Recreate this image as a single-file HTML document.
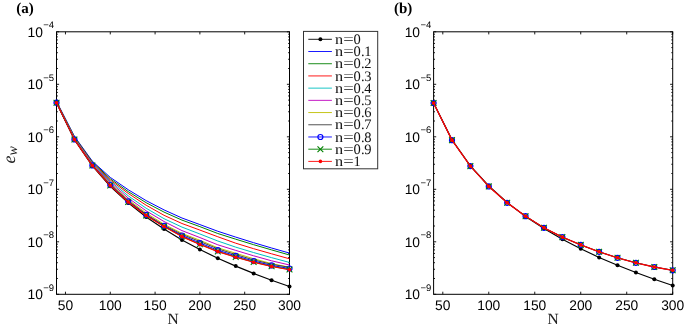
<!DOCTYPE html>
<html><head><meta charset="utf-8"><title>figure</title>
<style>
html,body{margin:0;padding:0;background:#fff}
svg{display:block}
text{text-rendering:geometricPrecision}
.s{font-family:"Liberation Sans",sans-serif;font-size:13.8px;fill:#000}
.e{font-family:"Liberation Sans",sans-serif;font-size:9.5px;fill:#000}
.n{font-family:"Liberation Serif",serif;font-size:15.5px;fill:#222}
.l{font-family:"Liberation Serif",serif;font-size:14.5px;fill:#111}
.p{font-family:"Liberation Serif",serif;font-size:15px;font-weight:bold;fill:#000}
.ew{font-family:"Liberation Serif",serif;font-style:italic;font-size:18px;fill:#222}
.w{font-size:14px}
</style></head><body>
<svg width="685" height="327" viewBox="0 0 685 327">
<rect width="685" height="327" fill="#fff"/>
<path d="M65.46 294.3v-2.6M65.46 31.8v2.6M110.27 294.3v-2.6M110.27 31.8v2.6M155.08 294.3v-2.6M155.08 31.8v2.6M199.88 294.3v-2.6M199.88 31.8v2.6M244.69 294.3v-2.6M244.69 31.8v2.6M289.50 294.3v-2.6M289.50 31.8v2.6M56.5 294.30h2.6M289.5 294.30h-2.6M56.5 278.50h1.4M289.5 278.50h-1.4M56.5 269.25h1.4M289.5 269.25h-1.4M56.5 262.69h1.4M289.5 262.69h-1.4M56.5 257.60h1.4M289.5 257.60h-1.4M56.5 253.45h1.4M289.5 253.45h-1.4M56.5 249.93h1.4M289.5 249.93h-1.4M56.5 246.89h1.4M289.5 246.89h-1.4M56.5 244.20h1.4M289.5 244.20h-1.4M56.5 241.80h2.6M289.5 241.80h-2.6M56.5 226.00h1.4M289.5 226.00h-1.4M56.5 216.75h1.4M289.5 216.75h-1.4M56.5 210.19h1.4M289.5 210.19h-1.4M56.5 205.10h1.4M289.5 205.10h-1.4M56.5 200.95h1.4M289.5 200.95h-1.4M56.5 197.43h1.4M289.5 197.43h-1.4M56.5 194.39h1.4M289.5 194.39h-1.4M56.5 191.70h1.4M289.5 191.70h-1.4M56.5 189.30h2.6M289.5 189.30h-2.6M56.5 173.50h1.4M289.5 173.50h-1.4M56.5 164.25h1.4M289.5 164.25h-1.4M56.5 157.69h1.4M289.5 157.69h-1.4M56.5 152.60h1.4M289.5 152.60h-1.4M56.5 148.45h1.4M289.5 148.45h-1.4M56.5 144.93h1.4M289.5 144.93h-1.4M56.5 141.89h1.4M289.5 141.89h-1.4M56.5 139.20h1.4M289.5 139.20h-1.4M56.5 136.80h2.6M289.5 136.80h-2.6M56.5 121.00h1.4M289.5 121.00h-1.4M56.5 111.75h1.4M289.5 111.75h-1.4M56.5 105.19h1.4M289.5 105.19h-1.4M56.5 100.10h1.4M289.5 100.10h-1.4M56.5 95.95h1.4M289.5 95.95h-1.4M56.5 92.43h1.4M289.5 92.43h-1.4M56.5 89.39h1.4M289.5 89.39h-1.4M56.5 86.70h1.4M289.5 86.70h-1.4M56.5 84.30h2.6M289.5 84.30h-2.6M56.5 68.50h1.4M289.5 68.50h-1.4M56.5 59.25h1.4M289.5 59.25h-1.4M56.5 52.69h1.4M289.5 52.69h-1.4M56.5 47.60h1.4M289.5 47.60h-1.4M56.5 43.45h1.4M289.5 43.45h-1.4M56.5 39.93h1.4M289.5 39.93h-1.4M56.5 36.89h1.4M289.5 36.89h-1.4M56.5 34.20h1.4M289.5 34.20h-1.4M56.5 31.80h2.6M289.5 31.80h-2.6" stroke="#000" stroke-width="0.9" fill="none"/>
<rect x="56.5" y="31.8" width="233.0" height="262.5" fill="none" stroke="#000" stroke-width="1"/>
<text x="65.46" y="309.8" text-anchor="middle" class="s">50</text>
<text x="110.27" y="309.8" text-anchor="middle" class="s">100</text>
<text x="155.08" y="309.8" text-anchor="middle" class="s">150</text>
<text x="199.88" y="309.8" text-anchor="middle" class="s">200</text>
<text x="244.69" y="309.8" text-anchor="middle" class="s">250</text>
<text x="289.50" y="309.8" text-anchor="middle" class="s">300</text>
<text x="42.90" y="299.40" text-anchor="end" class="s">10</text>
<text x="43.30" y="290.80" class="e">−9</text>
<text x="42.90" y="246.90" text-anchor="end" class="s">10</text>
<text x="43.30" y="238.30" class="e">−8</text>
<text x="42.90" y="194.40" text-anchor="end" class="s">10</text>
<text x="43.30" y="185.80" class="e">−7</text>
<text x="42.90" y="141.90" text-anchor="end" class="s">10</text>
<text x="43.30" y="133.30" class="e">−6</text>
<text x="42.90" y="89.40" text-anchor="end" class="s">10</text>
<text x="43.30" y="80.80" class="e">−5</text>
<text x="42.90" y="36.90" text-anchor="end" class="s">10</text>
<text x="43.30" y="28.30" class="e">−4</text>
<text x="173.00" y="324.2" text-anchor="middle" class="n">N</text>
<polyline points="56.50,102.70 74.42,139.70 92.35,165.90 110.27,186.30 128.19,202.90 146.12,217.00 164.04,229.10 181.96,239.90 199.88,249.60 217.81,258.20 235.73,266.10 253.65,273.40 271.58,280.20 289.50,286.50" fill="none" stroke="#000" stroke-width="1.15" stroke-linejoin="round"/>
<circle cx="56.50" cy="102.70" r="2.0" fill="#000"/>
<circle cx="74.42" cy="139.70" r="2.0" fill="#000"/>
<circle cx="92.35" cy="165.90" r="2.0" fill="#000"/>
<circle cx="110.27" cy="186.30" r="2.0" fill="#000"/>
<circle cx="128.19" cy="202.90" r="2.0" fill="#000"/>
<circle cx="146.12" cy="217.00" r="2.0" fill="#000"/>
<circle cx="164.04" cy="229.10" r="2.0" fill="#000"/>
<circle cx="181.96" cy="239.90" r="2.0" fill="#000"/>
<circle cx="199.88" cy="249.60" r="2.0" fill="#000"/>
<circle cx="217.81" cy="258.20" r="2.0" fill="#000"/>
<circle cx="235.73" cy="266.10" r="2.0" fill="#000"/>
<circle cx="253.65" cy="273.40" r="2.0" fill="#000"/>
<circle cx="271.58" cy="280.20" r="2.0" fill="#000"/>
<circle cx="289.50" cy="286.50" r="2.0" fill="#000"/>
<polyline points="56.50,101.38 74.42,136.30 92.35,161.20 110.27,177.40 128.19,189.70 146.12,200.60 164.04,209.90 181.96,218.00 199.88,224.58 217.81,231.25 235.73,237.10 253.65,242.70 271.58,248.00 289.50,253.10" fill="none" stroke="#0000ff" stroke-width="1.0" stroke-linejoin="round"/>
<polyline points="56.50,101.62 74.42,136.90 92.35,162.00 110.27,178.80 128.19,191.60 146.12,202.70 164.04,212.10 181.96,220.10 199.88,226.64 217.81,233.50 235.73,239.20 253.65,244.70 271.58,249.90 289.50,255.00" fill="none" stroke="#008000" stroke-width="1.0" stroke-linejoin="round"/>
<polyline points="56.50,101.86 74.42,137.50 92.35,162.80 110.27,180.00 128.19,193.40 146.12,205.20 164.04,215.30 181.96,223.50 199.88,230.08 217.81,236.75 235.73,243.20 253.65,248.70 271.58,253.80 289.50,258.80" fill="none" stroke="#ff0000" stroke-width="1.0" stroke-linejoin="round"/>
<polyline points="56.50,102.07 74.42,138.03 92.35,163.50 110.27,181.20 128.19,195.80 146.12,208.20 164.04,218.70 181.96,227.10 199.88,233.98 217.81,241.00 235.73,247.15 253.65,252.55 271.58,257.65 289.50,262.45" fill="none" stroke="#00bfbf" stroke-width="1.0" stroke-linejoin="round"/>
<polyline points="56.50,102.28 74.42,138.55 92.35,164.20 110.27,182.40 128.19,198.00 146.12,210.80 164.04,221.50 181.96,230.60 199.88,237.56 217.81,244.80 235.73,250.40 253.65,255.80 271.58,260.80 289.50,265.00" fill="none" stroke="#bf00bf" stroke-width="1.0" stroke-linejoin="round"/>
<polyline points="56.50,102.46 74.42,139.00 92.35,164.80 110.27,183.60 128.19,199.70 146.12,213.00 164.04,224.30 181.96,233.40 199.88,240.28 217.81,247.80 235.73,253.25 253.65,258.75 271.58,263.65 289.50,267.25" fill="none" stroke="#bfbf00" stroke-width="1.0" stroke-linejoin="round"/>
<polyline points="56.50,102.58 74.42,139.30 92.35,165.20 110.27,184.40 128.19,200.70 146.12,214.30 164.04,225.40 181.96,234.40 199.88,241.50 217.81,248.80 235.73,254.60 253.65,259.90 271.58,264.30 289.50,267.30" fill="none" stroke="#404040" stroke-width="1.0" stroke-linejoin="round"/>
<polyline points="56.50,102.64 74.42,139.45 92.35,165.40 110.27,185.00 128.19,201.35 146.12,214.90 164.04,225.95 181.96,235.50 199.88,243.04 217.81,250.20 235.73,255.90 253.65,261.05 271.58,265.40 289.50,268.50" fill="none" stroke="#0000ff" stroke-width="1.0" stroke-linejoin="round"/>
<circle cx="56.50" cy="102.64" r="2.5" fill="none" stroke="#0000ff" stroke-width="1.2"/>
<circle cx="74.42" cy="139.45" r="2.5" fill="none" stroke="#0000ff" stroke-width="1.2"/>
<circle cx="92.35" cy="165.40" r="2.5" fill="none" stroke="#0000ff" stroke-width="1.2"/>
<circle cx="110.27" cy="185.00" r="2.5" fill="none" stroke="#0000ff" stroke-width="1.2"/>
<circle cx="128.19" cy="201.35" r="2.5" fill="none" stroke="#0000ff" stroke-width="1.2"/>
<circle cx="146.12" cy="214.90" r="2.5" fill="none" stroke="#0000ff" stroke-width="1.2"/>
<circle cx="164.04" cy="225.95" r="2.5" fill="none" stroke="#0000ff" stroke-width="1.2"/>
<circle cx="181.96" cy="235.50" r="2.5" fill="none" stroke="#0000ff" stroke-width="1.2"/>
<circle cx="199.88" cy="243.04" r="2.5" fill="none" stroke="#0000ff" stroke-width="1.2"/>
<circle cx="217.81" cy="250.20" r="2.5" fill="none" stroke="#0000ff" stroke-width="1.2"/>
<circle cx="235.73" cy="255.90" r="2.5" fill="none" stroke="#0000ff" stroke-width="1.2"/>
<circle cx="253.65" cy="261.05" r="2.5" fill="none" stroke="#0000ff" stroke-width="1.2"/>
<circle cx="271.58" cy="265.40" r="2.5" fill="none" stroke="#0000ff" stroke-width="1.2"/>
<circle cx="289.50" cy="268.50" r="2.5" fill="none" stroke="#0000ff" stroke-width="1.2"/>
<polyline points="56.50,102.69 74.42,139.58 92.35,165.57 110.27,185.50 128.19,201.90 146.12,215.40 164.04,226.41 181.96,236.42 199.88,244.33 217.81,251.38 235.73,256.99 253.65,262.02 271.58,266.32 289.50,269.51" fill="none" stroke="#008000" stroke-width="1.0" stroke-linejoin="round"/>
<path d="M53.60 99.79L59.40 105.59M53.60 105.59L59.40 99.79" stroke="#008000" stroke-width="1.1" fill="none"/>
<path d="M71.52 136.68L77.32 142.48M71.52 142.48L77.32 136.68" stroke="#008000" stroke-width="1.1" fill="none"/>
<path d="M89.45 162.67L95.25 168.47M89.45 168.47L95.25 162.67" stroke="#008000" stroke-width="1.1" fill="none"/>
<path d="M107.37 182.60L113.17 188.40M107.37 188.40L113.17 182.60" stroke="#008000" stroke-width="1.1" fill="none"/>
<path d="M125.29 199.00L131.09 204.80M125.29 204.80L131.09 199.00" stroke="#008000" stroke-width="1.1" fill="none"/>
<path d="M143.22 212.50L149.02 218.30M143.22 218.30L149.02 212.50" stroke="#008000" stroke-width="1.1" fill="none"/>
<path d="M161.14 223.51L166.94 229.31M161.14 229.31L166.94 223.51" stroke="#008000" stroke-width="1.1" fill="none"/>
<path d="M179.06 233.52L184.86 239.32M179.06 239.32L184.86 233.52" stroke="#008000" stroke-width="1.1" fill="none"/>
<path d="M196.98 241.43L202.78 247.23M196.98 247.23L202.78 241.43" stroke="#008000" stroke-width="1.1" fill="none"/>
<path d="M214.91 248.48L220.71 254.28M214.91 254.28L220.71 248.48" stroke="#008000" stroke-width="1.1" fill="none"/>
<path d="M232.83 254.09L238.63 259.89M232.83 259.89L238.63 254.09" stroke="#008000" stroke-width="1.1" fill="none"/>
<path d="M250.75 259.12L256.55 264.92M250.75 264.92L256.55 259.12" stroke="#008000" stroke-width="1.1" fill="none"/>
<path d="M268.68 263.42L274.48 269.22M268.68 269.22L274.48 263.42" stroke="#008000" stroke-width="1.1" fill="none"/>
<path d="M286.60 266.61L292.40 272.41M286.60 272.41L292.40 266.61" stroke="#008000" stroke-width="1.1" fill="none"/>
<polyline points="56.50,102.70 74.42,139.60 92.35,165.60 110.27,185.60 128.19,202.00 146.12,215.50 164.04,226.50 181.96,236.60 199.88,244.58 217.81,251.60 235.73,257.20 253.65,262.20 271.58,266.50 289.50,269.70" fill="none" stroke="#ff0000" stroke-width="1.15" stroke-linejoin="round"/>
<circle cx="56.50" cy="102.70" r="1.8" fill="#ff0000"/>
<circle cx="74.42" cy="139.60" r="1.8" fill="#ff0000"/>
<circle cx="92.35" cy="165.60" r="1.8" fill="#ff0000"/>
<circle cx="110.27" cy="185.60" r="1.8" fill="#ff0000"/>
<circle cx="128.19" cy="202.00" r="1.8" fill="#ff0000"/>
<circle cx="146.12" cy="215.50" r="1.8" fill="#ff0000"/>
<circle cx="164.04" cy="226.50" r="1.8" fill="#ff0000"/>
<circle cx="181.96" cy="236.60" r="1.8" fill="#ff0000"/>
<circle cx="199.88" cy="244.58" r="1.8" fill="#ff0000"/>
<circle cx="217.81" cy="251.60" r="1.8" fill="#ff0000"/>
<circle cx="235.73" cy="257.20" r="1.8" fill="#ff0000"/>
<circle cx="253.65" cy="262.20" r="1.8" fill="#ff0000"/>
<circle cx="271.58" cy="266.50" r="1.8" fill="#ff0000"/>
<circle cx="289.50" cy="269.70" r="1.8" fill="#ff0000"/>
<path d="M442.80 294.3v-2.6M442.80 31.8v2.6M488.78 294.3v-2.6M488.78 31.8v2.6M534.76 294.3v-2.6M534.76 31.8v2.6M580.74 294.3v-2.6M580.74 31.8v2.6M626.72 294.3v-2.6M626.72 31.8v2.6M672.70 294.3v-2.6M672.70 31.8v2.6M433.6 294.30h2.6M672.7 294.30h-2.6M433.6 278.50h1.4M672.7 278.50h-1.4M433.6 269.25h1.4M672.7 269.25h-1.4M433.6 262.69h1.4M672.7 262.69h-1.4M433.6 257.60h1.4M672.7 257.60h-1.4M433.6 253.45h1.4M672.7 253.45h-1.4M433.6 249.93h1.4M672.7 249.93h-1.4M433.6 246.89h1.4M672.7 246.89h-1.4M433.6 244.20h1.4M672.7 244.20h-1.4M433.6 241.80h2.6M672.7 241.80h-2.6M433.6 226.00h1.4M672.7 226.00h-1.4M433.6 216.75h1.4M672.7 216.75h-1.4M433.6 210.19h1.4M672.7 210.19h-1.4M433.6 205.10h1.4M672.7 205.10h-1.4M433.6 200.95h1.4M672.7 200.95h-1.4M433.6 197.43h1.4M672.7 197.43h-1.4M433.6 194.39h1.4M672.7 194.39h-1.4M433.6 191.70h1.4M672.7 191.70h-1.4M433.6 189.30h2.6M672.7 189.30h-2.6M433.6 173.50h1.4M672.7 173.50h-1.4M433.6 164.25h1.4M672.7 164.25h-1.4M433.6 157.69h1.4M672.7 157.69h-1.4M433.6 152.60h1.4M672.7 152.60h-1.4M433.6 148.45h1.4M672.7 148.45h-1.4M433.6 144.93h1.4M672.7 144.93h-1.4M433.6 141.89h1.4M672.7 141.89h-1.4M433.6 139.20h1.4M672.7 139.20h-1.4M433.6 136.80h2.6M672.7 136.80h-2.6M433.6 121.00h1.4M672.7 121.00h-1.4M433.6 111.75h1.4M672.7 111.75h-1.4M433.6 105.19h1.4M672.7 105.19h-1.4M433.6 100.10h1.4M672.7 100.10h-1.4M433.6 95.95h1.4M672.7 95.95h-1.4M433.6 92.43h1.4M672.7 92.43h-1.4M433.6 89.39h1.4M672.7 89.39h-1.4M433.6 86.70h1.4M672.7 86.70h-1.4M433.6 84.30h2.6M672.7 84.30h-2.6M433.6 68.50h1.4M672.7 68.50h-1.4M433.6 59.25h1.4M672.7 59.25h-1.4M433.6 52.69h1.4M672.7 52.69h-1.4M433.6 47.60h1.4M672.7 47.60h-1.4M433.6 43.45h1.4M672.7 43.45h-1.4M433.6 39.93h1.4M672.7 39.93h-1.4M433.6 36.89h1.4M672.7 36.89h-1.4M433.6 34.20h1.4M672.7 34.20h-1.4M433.6 31.80h2.6M672.7 31.80h-2.6" stroke="#000" stroke-width="0.9" fill="none"/>
<rect x="433.6" y="31.8" width="239.10000000000002" height="262.5" fill="none" stroke="#000" stroke-width="1"/>
<text x="442.80" y="309.8" text-anchor="middle" class="s">50</text>
<text x="488.78" y="309.8" text-anchor="middle" class="s">100</text>
<text x="534.76" y="309.8" text-anchor="middle" class="s">150</text>
<text x="580.74" y="309.8" text-anchor="middle" class="s">200</text>
<text x="626.72" y="309.8" text-anchor="middle" class="s">250</text>
<text x="672.70" y="309.8" text-anchor="middle" class="s">300</text>
<text x="420.00" y="299.40" text-anchor="end" class="s">10</text>
<text x="420.40" y="290.80" class="e">−9</text>
<text x="420.00" y="246.90" text-anchor="end" class="s">10</text>
<text x="420.40" y="238.30" class="e">−8</text>
<text x="420.00" y="194.40" text-anchor="end" class="s">10</text>
<text x="420.40" y="185.80" class="e">−7</text>
<text x="420.00" y="141.90" text-anchor="end" class="s">10</text>
<text x="420.40" y="133.30" class="e">−6</text>
<text x="420.00" y="89.40" text-anchor="end" class="s">10</text>
<text x="420.40" y="80.80" class="e">−5</text>
<text x="420.00" y="36.90" text-anchor="end" class="s">10</text>
<text x="420.40" y="28.30" class="e">−4</text>
<text x="553.15" y="324.2" text-anchor="middle" class="n">N</text>
<polyline points="433.60,103.00 451.99,139.73 470.38,165.79 488.78,186.00 507.17,202.51 525.56,216.48 543.95,228.57 562.35,239.24 580.74,248.79 599.13,257.42 617.52,265.30 635.92,272.55 654.31,279.26 672.70,285.51" fill="none" stroke="#000" stroke-width="1.15" stroke-linejoin="round"/>
<circle cx="433.60" cy="103.00" r="2.0" fill="#000"/>
<circle cx="451.99" cy="139.73" r="2.0" fill="#000"/>
<circle cx="470.38" cy="165.79" r="2.0" fill="#000"/>
<circle cx="488.78" cy="186.00" r="2.0" fill="#000"/>
<circle cx="507.17" cy="202.51" r="2.0" fill="#000"/>
<circle cx="525.56" cy="216.48" r="2.0" fill="#000"/>
<circle cx="543.95" cy="228.57" r="2.0" fill="#000"/>
<circle cx="562.35" cy="239.24" r="2.0" fill="#000"/>
<circle cx="580.74" cy="248.79" r="2.0" fill="#000"/>
<circle cx="599.13" cy="257.42" r="2.0" fill="#000"/>
<circle cx="617.52" cy="265.30" r="2.0" fill="#000"/>
<circle cx="635.92" cy="272.55" r="2.0" fill="#000"/>
<circle cx="654.31" cy="279.26" r="2.0" fill="#000"/>
<circle cx="672.70" cy="285.51" r="2.0" fill="#000"/>
<polyline points="433.60,103.00 451.99,140.15 470.38,166.10 488.78,186.40 507.17,202.80 525.56,216.20 543.95,227.80 562.35,237.10 580.74,244.90 599.13,251.80 617.52,257.80 635.92,262.80 654.31,267.00 672.70,270.30" fill="none" stroke="#0000ff" stroke-width="1.0" stroke-linejoin="round"/>
<circle cx="433.60" cy="103.00" r="2.5" fill="none" stroke="#0000ff" stroke-width="1.2"/>
<circle cx="451.99" cy="140.15" r="2.5" fill="none" stroke="#0000ff" stroke-width="1.2"/>
<circle cx="470.38" cy="166.10" r="2.5" fill="none" stroke="#0000ff" stroke-width="1.2"/>
<circle cx="488.78" cy="186.40" r="2.5" fill="none" stroke="#0000ff" stroke-width="1.2"/>
<circle cx="507.17" cy="202.80" r="2.5" fill="none" stroke="#0000ff" stroke-width="1.2"/>
<circle cx="525.56" cy="216.20" r="2.5" fill="none" stroke="#0000ff" stroke-width="1.2"/>
<circle cx="543.95" cy="227.80" r="2.5" fill="none" stroke="#0000ff" stroke-width="1.2"/>
<circle cx="562.35" cy="237.10" r="2.5" fill="none" stroke="#0000ff" stroke-width="1.2"/>
<circle cx="580.74" cy="244.90" r="2.5" fill="none" stroke="#0000ff" stroke-width="1.2"/>
<circle cx="599.13" cy="251.80" r="2.5" fill="none" stroke="#0000ff" stroke-width="1.2"/>
<circle cx="617.52" cy="257.80" r="2.5" fill="none" stroke="#0000ff" stroke-width="1.2"/>
<circle cx="635.92" cy="262.80" r="2.5" fill="none" stroke="#0000ff" stroke-width="1.2"/>
<circle cx="654.31" cy="267.00" r="2.5" fill="none" stroke="#0000ff" stroke-width="1.2"/>
<circle cx="672.70" cy="270.30" r="2.5" fill="none" stroke="#0000ff" stroke-width="1.2"/>
<polyline points="433.60,103.00 451.99,140.15 470.38,166.10 488.78,186.40 507.17,202.80 525.56,216.20 543.95,227.80 562.35,237.10 580.74,244.90 599.13,251.80 617.52,257.80 635.92,262.80 654.31,267.00 672.70,270.30" fill="none" stroke="#008000" stroke-width="1.0" stroke-linejoin="round"/>
<path d="M430.70 100.10L436.50 105.90M430.70 105.90L436.50 100.10" stroke="#008000" stroke-width="1.1" fill="none"/>
<path d="M449.09 137.25L454.89 143.05M449.09 143.05L454.89 137.25" stroke="#008000" stroke-width="1.1" fill="none"/>
<path d="M467.48 163.20L473.28 169.00M467.48 169.00L473.28 163.20" stroke="#008000" stroke-width="1.1" fill="none"/>
<path d="M485.88 183.50L491.68 189.30M485.88 189.30L491.68 183.50" stroke="#008000" stroke-width="1.1" fill="none"/>
<path d="M504.27 199.90L510.07 205.70M504.27 205.70L510.07 199.90" stroke="#008000" stroke-width="1.1" fill="none"/>
<path d="M522.66 213.30L528.46 219.10M522.66 219.10L528.46 213.30" stroke="#008000" stroke-width="1.1" fill="none"/>
<path d="M541.05 224.90L546.85 230.70M541.05 230.70L546.85 224.90" stroke="#008000" stroke-width="1.1" fill="none"/>
<path d="M559.45 234.20L565.25 240.00M559.45 240.00L565.25 234.20" stroke="#008000" stroke-width="1.1" fill="none"/>
<path d="M577.84 242.00L583.64 247.80M577.84 247.80L583.64 242.00" stroke="#008000" stroke-width="1.1" fill="none"/>
<path d="M596.23 248.90L602.03 254.70M596.23 254.70L602.03 248.90" stroke="#008000" stroke-width="1.1" fill="none"/>
<path d="M614.62 254.90L620.42 260.70M614.62 260.70L620.42 254.90" stroke="#008000" stroke-width="1.1" fill="none"/>
<path d="M633.02 259.90L638.82 265.70M633.02 265.70L638.82 259.90" stroke="#008000" stroke-width="1.1" fill="none"/>
<path d="M651.41 264.10L657.21 269.90M651.41 269.90L657.21 264.10" stroke="#008000" stroke-width="1.1" fill="none"/>
<path d="M669.80 267.40L675.60 273.20M669.80 273.20L675.60 267.40" stroke="#008000" stroke-width="1.1" fill="none"/>
<polyline points="433.60,103.00 451.99,140.15 470.38,166.10 488.78,186.40 507.17,202.80 525.56,216.20 543.95,227.80 562.35,237.10 580.74,244.90 599.13,251.80 617.52,257.80 635.92,262.80 654.31,267.00 672.70,270.30" fill="none" stroke="#ff0000" stroke-width="1.35" stroke-linejoin="round"/>
<circle cx="433.60" cy="103.00" r="1.8" fill="#ff0000"/>
<circle cx="451.99" cy="140.15" r="1.8" fill="#ff0000"/>
<circle cx="470.38" cy="166.10" r="1.8" fill="#ff0000"/>
<circle cx="488.78" cy="186.40" r="1.8" fill="#ff0000"/>
<circle cx="507.17" cy="202.80" r="1.8" fill="#ff0000"/>
<circle cx="525.56" cy="216.20" r="1.8" fill="#ff0000"/>
<circle cx="543.95" cy="227.80" r="1.8" fill="#ff0000"/>
<circle cx="562.35" cy="237.10" r="1.8" fill="#ff0000"/>
<circle cx="580.74" cy="244.90" r="1.8" fill="#ff0000"/>
<circle cx="599.13" cy="251.80" r="1.8" fill="#ff0000"/>
<circle cx="617.52" cy="257.80" r="1.8" fill="#ff0000"/>
<circle cx="635.92" cy="262.80" r="1.8" fill="#ff0000"/>
<circle cx="654.31" cy="267.00" r="1.8" fill="#ff0000"/>
<circle cx="672.70" cy="270.30" r="1.8" fill="#ff0000"/>
<rect x="303.5" y="31.4" width="74.19999999999999" height="137.4" fill="#fff" stroke="#333" stroke-width="1"/>
<path d="M308.3 39.30H331.9" stroke="#000" stroke-width="0.9" fill="none"/>
<circle cx="320.40" cy="39.30" r="2.0" fill="#000"/>
<text y="43.90" class="l"><tspan x="335.1" textLength="8.1" lengthAdjust="spacingAndGlyphs">n</tspan><tspan x="343.3" textLength="10.5" lengthAdjust="spacingAndGlyphs">=</tspan><tspan x="353.6">0</tspan></text>
<path d="M308.3 51.51H331.9" stroke="#0000ff" stroke-width="0.9" fill="none"/>
<text y="56.11" class="l"><tspan x="335.1" textLength="8.1" lengthAdjust="spacingAndGlyphs">n</tspan><tspan x="343.3" textLength="10.5" lengthAdjust="spacingAndGlyphs">=</tspan><tspan x="353.6">0</tspan><tspan x="361.1">.</tspan><tspan x="364.2">1</tspan></text>
<path d="M308.3 63.72H331.9" stroke="#008000" stroke-width="0.9" fill="none"/>
<text y="68.32" class="l"><tspan x="335.1" textLength="8.1" lengthAdjust="spacingAndGlyphs">n</tspan><tspan x="343.3" textLength="10.5" lengthAdjust="spacingAndGlyphs">=</tspan><tspan x="353.6">0</tspan><tspan x="361.1">.</tspan><tspan x="364.2">2</tspan></text>
<path d="M308.3 75.93H331.9" stroke="#ff0000" stroke-width="0.9" fill="none"/>
<text y="80.53" class="l"><tspan x="335.1" textLength="8.1" lengthAdjust="spacingAndGlyphs">n</tspan><tspan x="343.3" textLength="10.5" lengthAdjust="spacingAndGlyphs">=</tspan><tspan x="353.6">0</tspan><tspan x="361.1">.</tspan><tspan x="364.2">3</tspan></text>
<path d="M308.3 88.14H331.9" stroke="#00bfbf" stroke-width="0.9" fill="none"/>
<text y="92.74" class="l"><tspan x="335.1" textLength="8.1" lengthAdjust="spacingAndGlyphs">n</tspan><tspan x="343.3" textLength="10.5" lengthAdjust="spacingAndGlyphs">=</tspan><tspan x="353.6">0</tspan><tspan x="361.1">.</tspan><tspan x="364.2">4</tspan></text>
<path d="M308.3 100.35H331.9" stroke="#bf00bf" stroke-width="0.9" fill="none"/>
<text y="104.95" class="l"><tspan x="335.1" textLength="8.1" lengthAdjust="spacingAndGlyphs">n</tspan><tspan x="343.3" textLength="10.5" lengthAdjust="spacingAndGlyphs">=</tspan><tspan x="353.6">0</tspan><tspan x="361.1">.</tspan><tspan x="364.2">5</tspan></text>
<path d="M308.3 112.56H331.9" stroke="#bfbf00" stroke-width="0.9" fill="none"/>
<text y="117.16" class="l"><tspan x="335.1" textLength="8.1" lengthAdjust="spacingAndGlyphs">n</tspan><tspan x="343.3" textLength="10.5" lengthAdjust="spacingAndGlyphs">=</tspan><tspan x="353.6">0</tspan><tspan x="361.1">.</tspan><tspan x="364.2">6</tspan></text>
<path d="M308.3 124.77H331.9" stroke="#404040" stroke-width="0.9" fill="none"/>
<text y="129.37" class="l"><tspan x="335.1" textLength="8.1" lengthAdjust="spacingAndGlyphs">n</tspan><tspan x="343.3" textLength="10.5" lengthAdjust="spacingAndGlyphs">=</tspan><tspan x="353.6">0</tspan><tspan x="361.1">.</tspan><tspan x="364.2">7</tspan></text>
<path d="M308.3 136.98H331.9" stroke="#0000ff" stroke-width="0.9" fill="none"/>
<circle cx="320.40" cy="136.98" r="2.5" fill="none" stroke="#0000ff" stroke-width="1.2"/>
<text y="141.58" class="l"><tspan x="335.1" textLength="8.1" lengthAdjust="spacingAndGlyphs">n</tspan><tspan x="343.3" textLength="10.5" lengthAdjust="spacingAndGlyphs">=</tspan><tspan x="353.6">0</tspan><tspan x="361.1">.</tspan><tspan x="364.2">8</tspan></text>
<path d="M308.3 149.19H331.9" stroke="#008000" stroke-width="0.9" fill="none"/>
<path d="M317.50 146.29L323.30 152.09M317.50 152.09L323.30 146.29" stroke="#008000" stroke-width="1.1" fill="none"/>
<text y="153.79" class="l"><tspan x="335.1" textLength="8.1" lengthAdjust="spacingAndGlyphs">n</tspan><tspan x="343.3" textLength="10.5" lengthAdjust="spacingAndGlyphs">=</tspan><tspan x="353.6">0</tspan><tspan x="361.1">.</tspan><tspan x="364.2">9</tspan></text>
<path d="M308.3 161.40H331.9" stroke="#ff0000" stroke-width="0.9" fill="none"/>
<circle cx="320.40" cy="161.40" r="1.8" fill="#ff0000"/>
<text y="166.00" class="l"><tspan x="335.1" textLength="8.1" lengthAdjust="spacingAndGlyphs">n</tspan><tspan x="343.3" textLength="10.5" lengthAdjust="spacingAndGlyphs">=</tspan><tspan x="353.6">1</tspan></text>
<text x="16.3" y="13" class="p">(a)</text>
<text x="394" y="13" class="p">(b)</text>
<text transform="translate(14.6 163.4) rotate(-90)" class="ew">e<tspan dy="2.6" class="w">w</tspan></text>
</svg>
</body></html>
